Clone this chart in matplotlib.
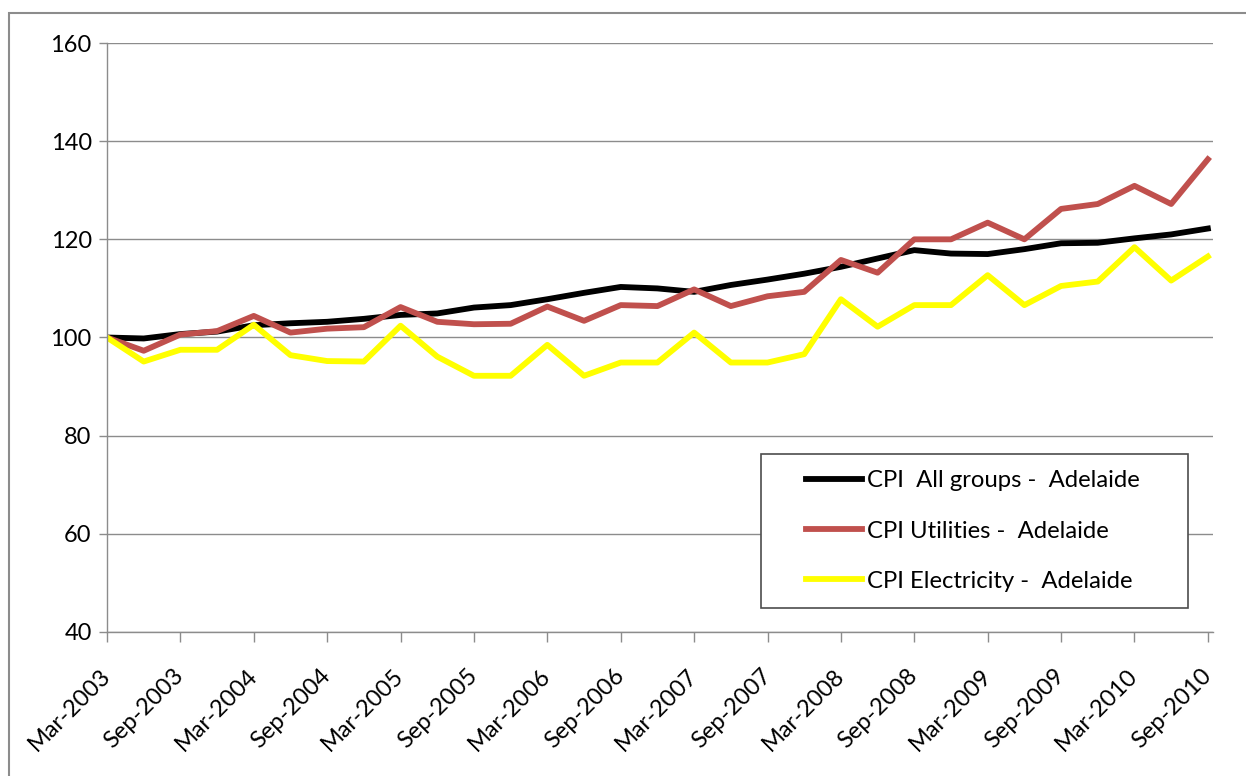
import numpy as np
import matplotlib
matplotlib.use("Agg")
import matplotlib.pyplot as plt
from matplotlib.patches import Rectangle

# quarterly CPI index, Mar-2003 = 100
quarters = ["Mar-2003", "Jun-2003", "Sep-2003", "Dec-2003",
            "Mar-2004", "Jun-2004", "Sep-2004", "Dec-2004",
            "Mar-2005", "Jun-2005", "Sep-2005", "Dec-2005",
            "Mar-2006", "Jun-2006", "Sep-2006", "Dec-2006",
            "Mar-2007", "Jun-2007", "Sep-2007", "Dec-2007",
            "Mar-2008", "Jun-2008", "Sep-2008", "Dec-2008",
            "Mar-2009", "Jun-2009", "Sep-2009", "Dec-2009",
            "Mar-2010", "Jun-2010", "Sep-2010"]

cpi_all = [100.0, 99.8, 100.7, 101.2, 102.5, 102.9, 103.2, 103.8,
           104.6, 104.9, 106.1, 106.6, 107.8, 109.1, 110.3, 110.0,
           109.3, 110.7, 111.8, 113.0, 114.4, 116.1, 117.8, 117.1,
           117.0, 118.0, 119.2, 119.3, 120.2, 121.0, 122.2]

cpi_utilities = [100.0, 97.3, 100.6, 101.3, 104.4, 101.0, 101.8, 102.1,
                 106.2, 103.2, 102.7, 102.8, 106.3, 103.4, 106.6, 106.4,
                 109.8, 106.4, 108.4, 109.3, 115.8, 113.2, 120.0, 120.0,
                 123.4, 120.0, 126.2, 127.2, 130.9, 127.2, 136.3]

cpi_electricity = [100.0, 95.1, 97.5, 97.5, 102.6, 96.4, 95.2, 95.1,
                   102.4, 96.1, 92.2, 92.2, 98.5, 92.2, 94.9, 94.9,
                   101.0, 94.9, 94.9, 96.6, 107.8, 102.2, 106.6, 106.6,
                   112.7, 106.6, 110.5, 111.4, 118.4, 111.6, 116.5]

series_names = ["CPI  All groups -  Adelaide",
                "CPI Utilities -  Adelaide",
                "CPI Electricity -  Adelaide"]
y_ticks = [40, 60, 80, 100, 120, 140, 160]

plt.rcParams['font.family'] = ['Lato', 'DejaVu Sans']

W, H = 1246, 776
fig = plt.figure(figsize=(W / 100, H / 100), dpi=100)
ax = fig.add_axes([107 / W, 1 - 632 / H, (1213 - 107) / W, (632 - 43) / H])

# outer chart border
fig.patches.append(Rectangle((9 / W, -0.05), 1.1, 1 - 13 / H + 0.05,
                             transform=fig.transFigure, fill=False,
                             edgecolor="#8c8c8c", linewidth=1.5))

x = np.arange(len(quarters))
lw = 4.2
l1, = ax.plot(x, cpi_all, color="black", lw=lw, solid_joinstyle="round")
l2, = ax.plot(x, cpi_utilities, color="#c0504d", lw=lw, solid_joinstyle="round")
l3, = ax.plot(x, cpi_electricity, color="#ffff00", lw=lw, solid_joinstyle="round")

ax.set_ylim(40, 160)
ax.set_xlim(0, 30.14)
ax.set_yticks(y_ticks)
ax.set_xticks(x[::2])
ax.set_xticklabels(quarters[::2], rotation=45, ha="right", va="center",
                   rotation_mode="anchor")

ax.grid(axis="y", color="#8c8c8c", lw=1.0)
ax.set_axisbelow(True)
for s in ["top", "right"]:
    ax.spines[s].set_visible(False)
for s in ["left", "bottom"]:
    ax.spines[s].set_color("#8c8c8c")
    ax.spines[s].set_linewidth(1.0)
ax.tick_params(axis="y", length=6, width=1.0, color="#8c8c8c",
               labelsize=17, pad=5)
ax.tick_params(axis="x", length=7, width=1.0, color="#8c8c8c",
               labelsize=17, pad=22)

# legend frame drawn separately to match box size
fig.patches.append(Rectangle((761 / W, 1 - 608 / H), 427 / W, 154 / H,
                             transform=fig.transFigure, fill=True,
                             facecolor="white", edgecolor="#4d4d4d",
                             linewidth=1.2, zorder=3))
leg = fig.legend([l1, l2, l3], series_names, loc="center left",
                 bbox_to_anchor=(806 / W, 1 - 531 / H), frameon=False,
                 fontsize=17.2, handlelength=2.35, handletextpad=0.2,
                 labelspacing=1.22, borderpad=0, borderaxespad=0)
leg.set_zorder(4)

fig.savefig("out.png", dpi=100)
